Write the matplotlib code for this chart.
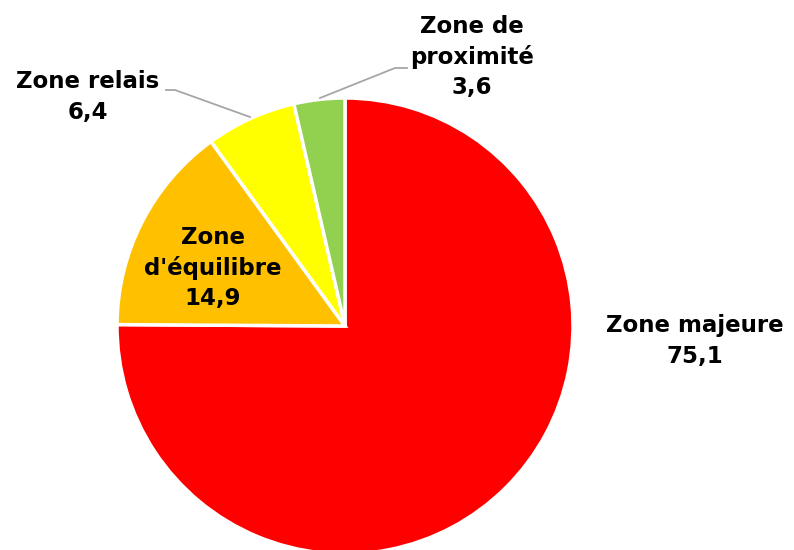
import matplotlib
matplotlib.use("Agg")
import matplotlib.pyplot as plt

labels = ["Zone majeure", "Zone d'équilibre", "Zone relais", "Zone de\nproximité"]
values = [75.1, 14.9, 6.4, 3.6]
colors = ["#FF0000", "#FFC000", "#FFFF00", "#92D050"]
value_text = ["75,1", "14,9", "6,4", "3,6"]

W, H = 794, 550
cx, cy, R = 345, 326, 228

fig = plt.figure(figsize=(W / 100, H / 100), dpi=100)
ax = fig.add_axes([(cx - R) / W, (H - cy - R) / H, 2 * R / W, 2 * R / H])
ax.pie(values, colors=colors, startangle=90, counterclock=False,
       wedgeprops=dict(edgecolor="white", linewidth=2.5), radius=1)
ax.set_xlim(-1, 1)
ax.set_ylim(-1, 1)
ax.set_aspect("equal")
ax.axis("off")


def d(px, py):
    return ((px - cx) / R, (cy - py) / R)


fs = 16.5
tk = dict(ha="center", va="center", fontsize=fs, fontweight="bold",
          family="DejaVu Sans", color="black", linespacing=1.4, clip_on=False)

ax.text(*d(695, 341), "Zone majeure\n" + value_text[0], **tk)
ax.text(*d(213, 268), "Zone\nd'équilibre\n" + value_text[1], **tk)
ax.text(*d(88, 97), "Zone relais\n" + value_text[2], **tk)
ax.text(*d(472, 57), "Zone de\nproximité\n" + value_text[3], **tk)

# leader lines
for pts in ([(166, 90), (175, 90), (250, 117)], [(407, 68), (395, 68), (320, 98)]):
    xs, ys = zip(*[d(*p) for p in pts])
    ax.plot(xs, ys, color="#A6A6A6", lw=1.3, clip_on=False)

fig.savefig("out.png", dpi=100)
